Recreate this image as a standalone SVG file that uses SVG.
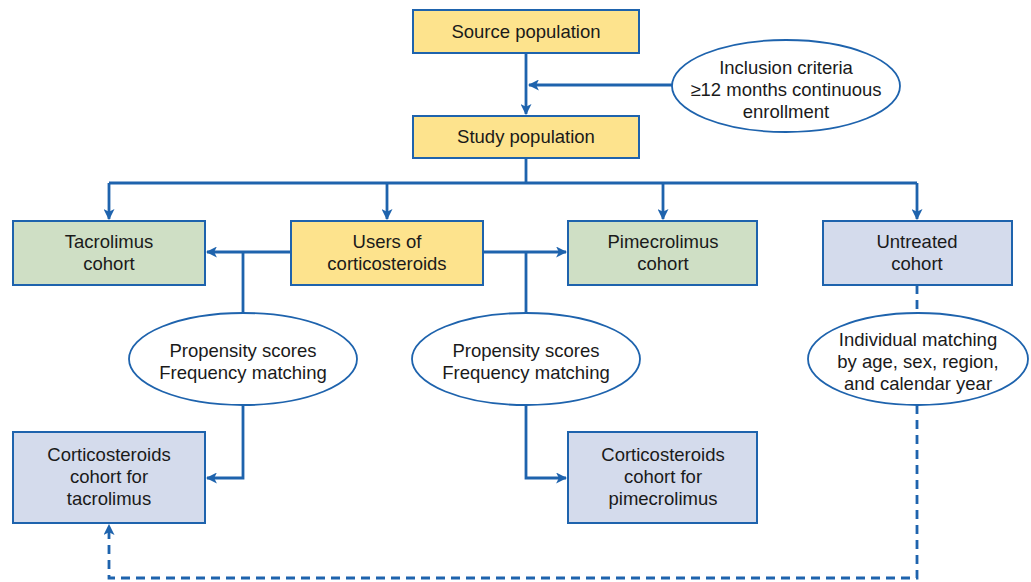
<svg xmlns="http://www.w3.org/2000/svg" width="1031" height="582" viewBox="0 0 1031 582">
<style>
.box{stroke:#1e63ad;stroke-width:2}
.yel{fill:#fde38d}
.grn{fill:#cfdfc5}
.lav{fill:#d4dbec}
.ell{fill:#fff;stroke:#1e63ad;stroke-width:1.8}
.con{fill:none;stroke:#1e63ad;stroke-width:2.8}
.dash{stroke-dasharray:9 6}
text{font-family:"Liberation Sans",Arial,sans-serif;font-size:18.5px;fill:#1a1a1a;text-anchor:middle}
</style>
<defs>
<marker id="ah" viewBox="0 0 10 10" refX="9" refY="5" markerWidth="11" markerHeight="11" markerUnits="userSpaceOnUse" orient="auto">
<path d="M0,0 L10,5 L0,10 L2.5,5 z" fill="#1e63ad"/>
</marker>
</defs>
<rect width="1031" height="582" fill="#fff"/>
<g id="connectors">
<path class="con" d="M526,53 V114" marker-end="url(#ah)"/>
<path class="con" d="M672,85 H529" marker-end="url(#ah)"/>
<path class="con" d="M526,158 V183"/>
<path class="con" d="M109,183 H917"/>
<path class="con" d="M109,183 V219" marker-end="url(#ah)"/>
<path class="con" d="M387,183 V219" marker-end="url(#ah)"/>
<path class="con" d="M663,183 V219" marker-end="url(#ah)"/>
<path class="con" d="M917,183 V219" marker-end="url(#ah)"/>
<path class="con" d="M291,252 H207" marker-end="url(#ah)"/>
<path class="con" d="M243,252 V313"/>
<path class="con" d="M483,252 H566" marker-end="url(#ah)"/>
<path class="con" d="M526,252 V313"/>
<path class="con" d="M243,405 V478 H207" marker-end="url(#ah)"/>
<path class="con" d="M526,405 V478 H566" marker-end="url(#ah)"/>
<path class="con dash" d="M917,285 V313"/>
<path class="con dash" d="M917,405 V578 H109 V525" marker-end="url(#ah)"/>
</g>
<g id="source">
<rect class="box yel" x="413" y="10" width="226" height="43"/>
<text x="526" y="38">Source population</text>
</g>
<g id="inclusion">
<ellipse class="ell" cx="786" cy="86" rx="114" ry="46"/>
<text x="786" y="74">Inclusion criteria</text>
<text x="786" y="96">≥12 months continuous</text>
<text x="786" y="118">enrollment</text>
</g>
<g id="study">
<rect class="box yel" x="413" y="116" width="226" height="42"/>
<text x="526" y="143">Study population</text>
</g>
<g id="tacrolimus">
<rect class="box grn" x="13" y="221" width="192" height="64"/>
<text x="109" y="248">Tacrolimus</text>
<text x="109" y="270">cohort</text>
</g>
<g id="users">
<rect class="box yel" x="291" y="221" width="192" height="64"/>
<text x="387" y="248">Users of</text>
<text x="387" y="270">corticosteroids</text>
</g>
<g id="pimecrolimus">
<rect class="box grn" x="568" y="221" width="189" height="64"/>
<text x="663" y="248">Pimecrolimus</text>
<text x="663" y="270">cohort</text>
</g>
<g id="untreated">
<rect class="box lav" x="823" y="221" width="189" height="64"/>
<text x="917" y="248">Untreated</text>
<text x="917" y="270">cohort</text>
</g>
<g id="ps1">
<ellipse class="ell" cx="243" cy="359" rx="114" ry="46"/>
<text x="243" y="357">Propensity scores</text>
<text x="243" y="379">Frequency matching</text>
</g>
<g id="ps2">
<ellipse class="ell" cx="526" cy="359" rx="114" ry="46"/>
<text x="526" y="357">Propensity scores</text>
<text x="526" y="379">Frequency matching</text>
</g>
<g id="individual">
<ellipse class="ell" cx="918" cy="359" rx="110" ry="46"/>
<text x="918" y="346">Individual matching</text>
<text x="918" y="368">by age, sex, region,</text>
<text x="918" y="390">and calendar year</text>
</g>
<g id="cortTac">
<rect class="box lav" x="13" y="432" width="192" height="91"/>
<text x="109" y="461">Corticosteroids</text>
<text x="109" y="483">cohort for</text>
<text x="109" y="505">tacrolimus</text>
</g>
<g id="cortPime">
<rect class="box lav" x="568" y="432" width="189" height="91"/>
<text x="663" y="461">Corticosteroids</text>
<text x="663" y="483">cohort for</text>
<text x="663" y="505">pimecrolimus</text>
</g>
</svg>
